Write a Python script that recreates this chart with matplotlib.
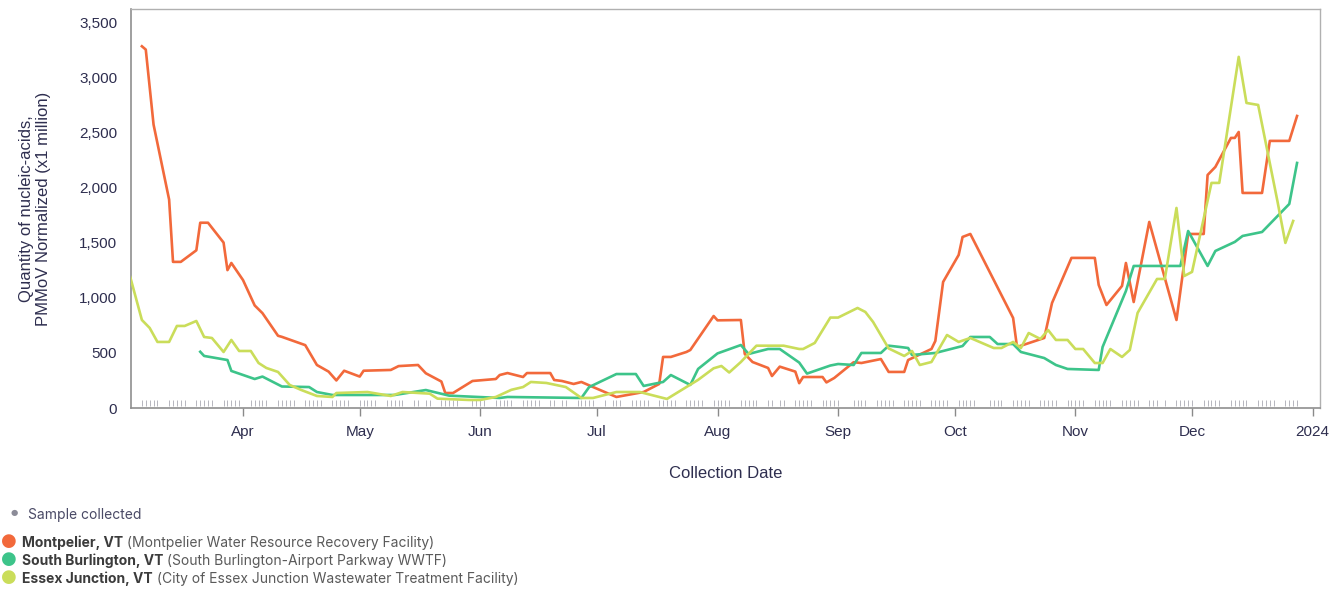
import numpy as np
import pandas as pd
import matplotlib
matplotlib.use('Agg')
import matplotlib.pyplot as plt

BASE = pd.Timestamp('2022-12-31')   # dia 1 = 1 jan 2023

# Montpelier, VT — (dia do ano, valor x1 milhão)
MONT_DAY = [65, 66, 68, 72, 73, 75, 79, 80, 82, 86, 87, 88, 91, 94, 96, 100, 101, 107, 110, 113,
            115, 117, 121, 122, 129, 131, 136, 138, 142, 143, 145, 150, 156, 157, 159, 163, 164, 170,
            171, 173, 176, 178, 181, 187, 194, 198, 199, 201, 205, 206, 212, 213, 219, 220, 222, 226,
            227, 229, 233, 234, 235, 240, 241, 243, 248, 250, 255, 257, 261, 262, 268, 269, 271, 275,
            276, 278, 289, 290, 297, 299, 304, 310, 311, 313, 317, 318, 320, 324, 331, 334, 338, 339,
            341, 345, 346, 347, 348, 353, 355, 360, 362]
MONT_VAL = [3280, 3250, 2570, 1890, 1325, 1325, 1430, 1680, 1680, 1500, 1250, 1315, 1160, 930, 860,
            655, 645, 570, 390, 330, 250, 338, 285, 338, 345, 380, 390, 315, 240, 136, 136, 245, 263,
            299, 317, 281, 317, 317, 254, 245, 218, 236, 190, 100, 145, 218, 463, 463, 508, 526, 834,
            795, 798, 490, 417, 363, 290, 375, 330, 225, 281, 281, 232, 272, 415, 408, 444, 327, 327,
            435, 535, 608, 1143, 1388, 1551, 1578, 816, 553, 635, 952, 1361, 1361, 1116, 934, 1107,
            1315, 961, 1687, 798, 1578, 1578, 2113, 2186, 2449, 2449, 2503, 1950, 1950, 2422, 2422,
            2648]

# South Burlington, VT
SBUR_DAY = [80, 81, 87, 88, 94, 96, 101, 108, 110, 114, 130, 138, 144, 157, 159, 178, 180, 187, 192,
            194, 199, 201, 206, 208, 213, 219, 221, 226, 229, 234, 236, 242, 244, 248, 250, 255, 257,
            260, 262, 263, 269, 276, 278, 283, 285, 289, 291, 297, 300, 303, 311, 312, 318, 320, 332,
            334, 339, 341, 346, 348, 353, 360, 362]
SBUR_VAL = [510, 472, 435, 336, 263, 285, 195, 190, 145, 118, 118, 163, 112, 91, 100, 91, 190, 308,
            308, 200, 236, 299, 209, 354, 495, 571, 490, 535, 535, 412, 312, 385, 399, 390, 499, 499,
            565, 553, 544, 481, 499, 562, 644, 644, 580, 580, 508, 453, 390, 354, 345, 553, 1061,
            1288, 1288, 1605, 1288, 1424, 1506, 1560, 1596, 1850, 2222]

# Essex Junction, VT
ESSX_DAY = [62, 65, 67, 69, 72, 74, 76, 79, 81, 83, 86, 88, 90, 93, 95, 97, 100, 103, 106, 110, 114,
            115, 123, 129, 132, 139, 141, 149, 152, 156, 160, 163, 165, 169, 174, 178, 181, 187, 193,
            200, 208, 212, 214, 216, 219, 223, 230, 234, 235, 238, 242, 244, 249, 251, 253, 257, 261,
            263, 265, 268, 272, 275, 278, 284, 286, 289, 291, 293, 296, 298, 300, 303, 305, 307, 310,
            312, 314, 317, 319, 321, 326, 328, 331, 333, 335, 340, 342, 347, 349, 352, 357, 359, 361]
ESSX_VAL = [1188, 798, 726, 599, 599, 744, 744, 789, 644, 635, 508, 617, 517, 517, 408, 363, 327,
            209, 163, 109, 100, 136, 145, 109, 145, 130, 85, 73, 73, 100, 165, 190, 236, 227, 190, 91,
            91, 145, 145, 82, 255, 360, 381, 322, 417, 565, 565, 535, 535, 590, 820, 820, 907, 871,
            780, 540, 472, 517, 390, 417, 662, 599, 635, 544, 544, 599, 544, 680, 626, 707, 617, 617,
            535, 535, 408, 408, 535, 463, 526, 862, 1170, 1170, 1814, 1197, 1234, 2041, 2041, 3184,
            2766, 2748, 1868, 1497, 1696]

# amostras coletadas: semanas a partir de seg 6 mar (dia 65), padrão seg..sex
WEEK0 = 65
WEEKS = ['11111'] * 10 + ['11011', '11111', '01111', '11111', '11111', '11011', '11111', '10111',
         '11111', '11111', '11111', '11111', '11111', '11011', '11111', '11111', '01111', '11111',
         '11111', '11111', '11111', '01111', '11111', '11111', '11111', '11111', '11111', '11101',
         '11111', '11111', '11111', '11111', '11110']

SERIES = [('Montpelier, VT', '(Montpelier Water Resource Recovery Facility)', MONT_DAY, MONT_VAL, '#F2693B'),
          ('South Burlington, VT', '(South Burlington-Airport Parkway WWTF)', SBUR_DAY, SBUR_VAL, '#3DC48A'),
          ('Essex Junction, VT', '(City of Essex Junction Wastewater Treatment Facility)', ESSX_DAY, ESSX_VAL, '#CADD5A')]

MONTHS = ['2023-04-01', '2023-05-01', '2023-06-01', '2023-07-01', '2023-08-01', '2023-09-01',
          '2023-10-01', '2023-11-01', '2023-12-01', '2024-01-01']
MLABELS = ['Apr', 'May', 'Jun', 'Jul', 'Aug', 'Sep', 'Oct', 'Nov', 'Dec', '2024']
YTICKS = [0, 500, 1000, 1500, 2000, 2500, 3000, 3500]

TXT = '#2E2E4F'
AX_FONT = ['Liberation Sans', 'DejaVu Sans']


def to_date(days):
    return BASE + pd.to_timedelta(np.asarray(days, dtype=float), unit='D')


fig = plt.figure(figsize=(13.4, 5.9), dpi=100)
ax = fig.add_axes([131 / 1340, 1 - 408 / 590, (1320 - 131) / 1340, (408 - 9) / 590])

for name, sub, d, v, c in SERIES:
    ax.plot(to_date(d), v, color=c, lw=1.9, solid_joinstyle='round', zorder=3)

# marcas de coleta
samp = [WEEK0 + 7 * i + k for i, w in enumerate(WEEKS) for k, f in enumerate(w) if f == '1']
ax.plot(to_date(samp), np.full(len(samp), 0.012), ls='none', marker='|', ms=5, mew=0.7,
        color='#B5B5BD', transform=ax.get_xaxis_transform(), clip_on=False, zorder=2)

ax.set_xlim(to_date([62.2])[0], to_date([367.9])[0])
ax.set_ylim(0, 3618)
ax.set_xticks(pd.to_datetime(MONTHS))
ax.set_xticklabels(MLABELS, family=AX_FONT, fontsize=11, color=TXT)
ax.set_yticks(YTICKS)
ax.set_yticklabels([f'{y:,}' for y in YTICKS], family=AX_FONT, fontsize=11, color=TXT)
ax.tick_params(axis='x', length=6, width=1, color='#8A8A8A', pad=6)
ax.tick_params(axis='y', length=0, pad=10)
for s in ['left', 'bottom']:
    ax.spines[s].set_color('#8F8F8F'); ax.spines[s].set_linewidth(1.2)
for s in ['top', 'right']:
    ax.spines[s].set_color('#B0B0B0'); ax.spines[s].set_linewidth(1.0)

ax.set_xlabel('Collection Date', family=AX_FONT, fontsize=12, color=TXT, labelpad=20)
ax.set_ylabel('Quantity of nucleic-acids,\nPMMoV Normalized (x1 million)', family=AX_FONT,
              fontsize=12, color=TXT, labelpad=20, linespacing=1.15)

# legenda
LEG_FONT = ['Inter', 'DejaVu Sans']
fig.text(14 / 1340, 1 - 512 / 590, '\u25CF', color='#8C8C98', fontsize=6, ha='center', va='center')
fig.text(28 / 1340, 1 - 515 / 590, 'Sample collected', family=LEG_FONT, fontsize=10,
         color='#4A4A66', va='center')
for i, (name, sub, d, v, c) in enumerate(SERIES):
    yy = 1 - (543 + 18 * i) / 590
    fig.text(9 / 1340, yy + 0.003, '\u25CF', color=c, fontsize=13, ha='center', va='center')
    t = fig.text(22 / 1340, yy, name, family=LEG_FONT, fontsize=10, fontweight='bold',
                 color='#3C3C3C', va='center')
    ax.annotate(' ' + sub, xy=(1, 0), xycoords=t, va='bottom', ha='left', family=LEG_FONT,
                fontsize=10, color='#5A5A5A', annotation_clip=False)

fig.savefig('out.png', dpi=100, facecolor='white')
